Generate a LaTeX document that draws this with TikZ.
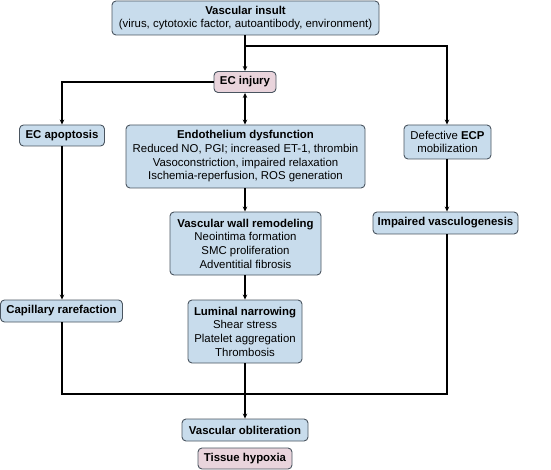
\documentclass[tikz,border=0pt]{standalone}
\usepackage{fontspec}
\setmainfont{Liberation Sans}
\usetikzlibrary{arrows.meta}
\definecolor{boxblue}{HTML}{C8DCEC}
\definecolor{boxpink}{HTML}{E9D4DC}
\definecolor{boxline}{HTML}{4A5560}
\begin{document}
\begin{tikzpicture}[x=1pt,y=-1pt,
  base/.style={draw=boxline,line width=0.9pt,rounded corners=4pt,align=center,inner sep=1pt,
    font=\fontsize{11.4}{13.7}\selectfont},
  bluebox/.style={base,fill=boxblue},
  pinkbox/.style={base,fill=boxpink},
  conn/.style={line width=1.2pt,black},
  arr/.style={conn,-{Stealth[length=5pt,width=4.5pt]}},
  dbl/.style={conn,{Stealth[length=5pt,width=4.5pt]}-{Stealth[length=5pt,width=4.5pt]}}]
\useasboundingbox (0,0) rectangle (551,470);
\node[bluebox,minimum width=267pt,minimum height=34pt] (insult) at (245.5,18)
  {\textbf{Vascular insult}\\(virus, cytotoxic factor, autoantibody, environment)};
\node[pinkbox,minimum width=62pt,minimum height=21pt] (ecinj) at (245,82) {\textbf{EC injury}};
\node[bluebox,minimum width=85pt,minimum height=21pt] (apop) at (62,135.5) {\textbf{EC apoptosis}};
\node[bluebox,minimum width=239pt,minimum height=63pt] (endo) at (245.5,156.5)
  {\textbf{Endothelium dysfunction}\\Reduced NO, PGI; increased ET-1, thrombin\\Vasoconstriction, impaired relaxation\\Ischemia-reperfusion, ROS generation};
\node[bluebox,minimum width=87pt,minimum height=34pt] (ecp) at (447.5,142)
  {Defective \textbf{ECP}\\mobilization};
\node[bluebox,minimum width=151pt,minimum height=63pt] (wall) at (245.5,243.5)
  {\textbf{Vascular wall remodeling}\\Neointima formation\\SMC proliferation\\Adventitial fibrosis};
\node[bluebox,minimum width=145pt,minimum height=22pt] (impair) at (445.5,223) {\textbf{Impaired vasculogenesis}};
\node[bluebox,minimum width=122pt,minimum height=22pt] (cap) at (61.5,311) {\textbf{Capillary rarefaction}};
\node[bluebox,minimum width=114pt,minimum height=63pt] (lum) at (245,331.5)
  {\textbf{Luminal narrowing}\\Shear stress\\Platelet aggregation\\Thrombosis};
\node[bluebox,minimum width=126pt,minimum height=22pt] (obl) at (245,430) {\textbf{Vascular obliteration}};
\node[pinkbox,minimum width=94pt,minimum height=21pt] (hyp) at (245,458.5) {\textbf{Tissue hypoxia}};
\coordinate (br) at (245,46);
\coordinate (join) at (447,394);
\draw[arr] (insult.south -| ecinj) -- (ecinj.north);
\draw[arr] (br) -| (ecp.north -| join);
\draw[arr] (ecinj.west) -| (apop.north);
\draw[dbl] (ecinj.south) -- (endo.north -| ecinj);
\draw[arr] (endo.south -| ecinj) -- (wall.north -| ecinj);
\draw[arr] (wall.south -| ecinj) -- (lum.north);
\draw[arr] (apop.south) -- (cap.north -| apop);
\draw[arr] (ecp.south -| join) -- (impair.north -| join);
\draw[conn] (cap.south -| apop) |- (join) -- (impair.south -| join);
\draw[arr] (lum.south) -- (obl.north);
\end{tikzpicture}
\end{document}
